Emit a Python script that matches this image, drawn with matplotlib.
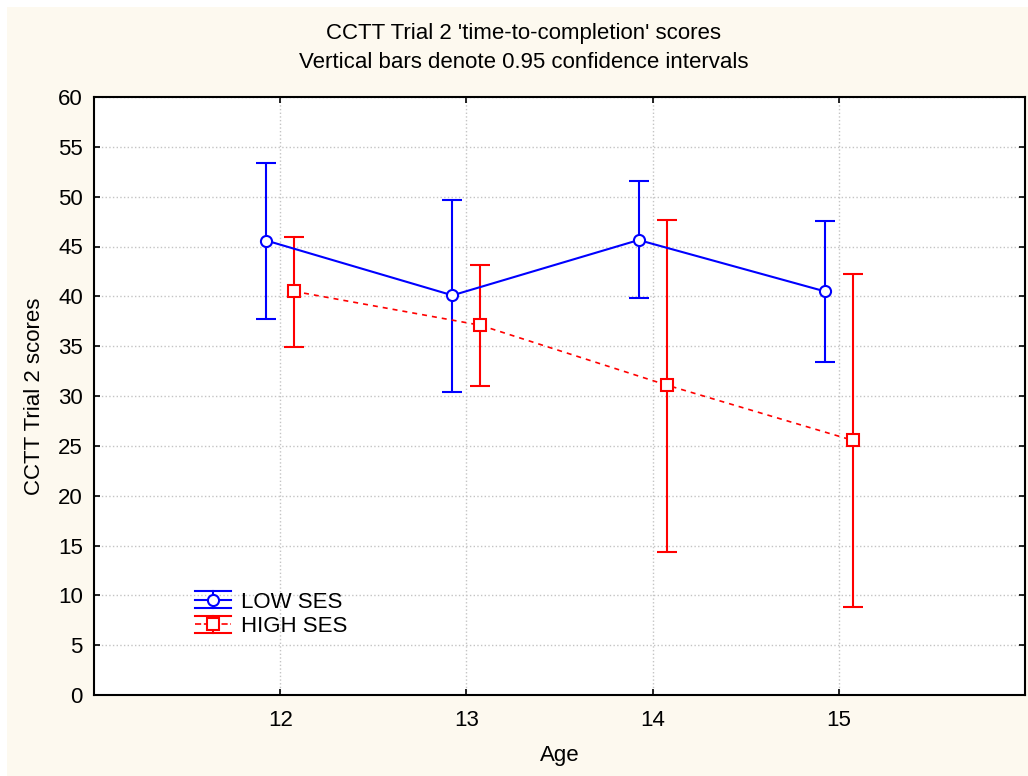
import matplotlib
matplotlib.use('Agg')
from matplotlib import pyplot as plt
from matplotlib.patches import Rectangle
from matplotlib.lines import Line2D
from matplotlib.legend_handler import HandlerBase

plt.rcParams['font.family'] = ['Liberation Sans', 'DejaVu Sans']

ages = [12, 13, 14, 15]
low_mean = [45.6, 40.1, 45.65, 40.5]
low_upper = [53.4, 49.7, 51.6, 47.6]
low_lower = [37.7, 30.4, 39.8, 33.4]
high_mean = [40.5, 37.1, 31.1, 25.55]
high_upper = [46.0, 43.1, 47.7, 42.2]
high_lower = [34.9, 31.0, 14.35, 8.85]
group_names = ['LOW SES', 'HIGH SES']
y_ticks = list(range(0, 61, 5))

CREAM = '#fdf9ef'
FS = 16
shift = 0.075


class CappedHandle(HandlerBase):
    # legend key: line with marker, boxed by two cap lines and a stem
    def create_artists(self, legend, orig, xdescent, ydescent, width, height,
                       fontsize, trans):
        c = orig.get_color()
        x0, x1 = -xdescent, -xdescent + width
        xm = (x0 + x1) / 2
        ym = height / 2 - ydescent
        h = height * 0.55
        dashed = orig.get_linestyle() != '-'
        arts = [
            Line2D([x0, x1], [ym + h, ym + h], color=c, lw=1.5),
            Line2D([x0, x1], [ym - h, ym - h], color=c, lw=1.5),
            Line2D([xm, xm], [ym - h, ym + h], color=c, lw=1.5),
            Line2D([x0, x1], [ym, ym], color=c, lw=1.2 if dashed else 1.5,
                   linestyle=orig.get_linestyle()),
            Line2D([xm], [ym], marker=orig.get_marker(), markersize=orig.get_markersize(),
                   markerfacecolor='white', markeredgecolor=c, markeredgewidth=1.5,
                   linestyle='none'),
        ]
        for a in arts:
            a.set_transform(trans)
        return arts


fig = plt.figure(figsize=(10.28, 7.76), dpi=100, facecolor='white')
fig.add_artist(Rectangle((7 / 1028, 0), 1, 1 - 7 / 776, transform=fig.transFigure,
                         facecolor=CREAM, edgecolor='none', zorder=-10))
ax = fig.add_axes([94 / 1028, 1 - 695 / 776, 931 / 1028, 598 / 776])
ax.set_facecolor('white')

low_x = [a - shift for a in ages]
high_x = [a + shift for a in ages]
low_err = [[m - lo for m, lo in zip(low_mean, low_lower)],
           [up - m for m, up in zip(low_mean, low_upper)]]
high_err = [[m - lo for m, lo in zip(high_mean, high_lower)],
            [up - m for m, up in zip(high_mean, high_upper)]]

eb1 = ax.errorbar(low_x, low_mean, yerr=low_err, color='#0000ff', lw=1.5,
                  marker='o', markersize=8, markerfacecolor='white',
                  markeredgecolor='#0000ff', markeredgewidth=1.5,
                  capsize=7, capthick=1.5, elinewidth=1.5, zorder=3)
eb2 = ax.errorbar(high_x, high_mean, yerr=high_err, color='#ff0000', lw=1.2,
                  linestyle=(0, (3, 3)), marker='s', markersize=8,
                  markerfacecolor='white', markeredgecolor='#ff0000',
                  markeredgewidth=1.5, capsize=7, capthick=1.5,
                  elinewidth=1.5, zorder=3)

ax.set_xlim(11, 16)
ax.set_ylim(0, 60)
ax.set_xticks(ages)
ax.set_yticks(y_ticks)
ax.tick_params(direction='in', length=4, width=1.2, top=True, right=True,
               labelsize=FS)
ax.tick_params(axis='x', pad=11)
ax.tick_params(axis='y', pad=8)
ax.grid(True, color='#c4c4c4', linestyle=':', linewidth=1)
ax.set_axisbelow(True)
for s in ax.spines.values():
    s.set_linewidth(1.5)

# titles and axis names placed in figure coordinates
fig.text(524 / 1028, 1 - 33 / 776, "CCTT Trial 2 'time-to-completion' scores",
         fontsize=FS, ha='center', va='center')
fig.text(524 / 1028, 1 - 62 / 776, "Vertical bars denote 0.95 confidence intervals",
         fontsize=FS, ha='center', va='center')
fig.text(560 / 1028, 1 - 755 / 776, 'Age', fontsize=FS, ha='center', va='center')
fig.text(35 / 1028, 1 - 396 / 776, 'CCTT Trial 2 scores', fontsize=FS,
         ha='center', va='center', rotation=90)

ax.legend([eb1[0], eb2[0]], group_names, handler_map={Line2D: CappedHandle()},
          loc='upper left', bbox_to_anchor=(0.109, 0.173), frameon=False,
          fontsize=FS, handlelength=1.6, handletextpad=0.45, labelspacing=0.15,
          borderpad=0, borderaxespad=0)

fig.savefig('out.png', dpi=100, facecolor=fig.get_facecolor())
